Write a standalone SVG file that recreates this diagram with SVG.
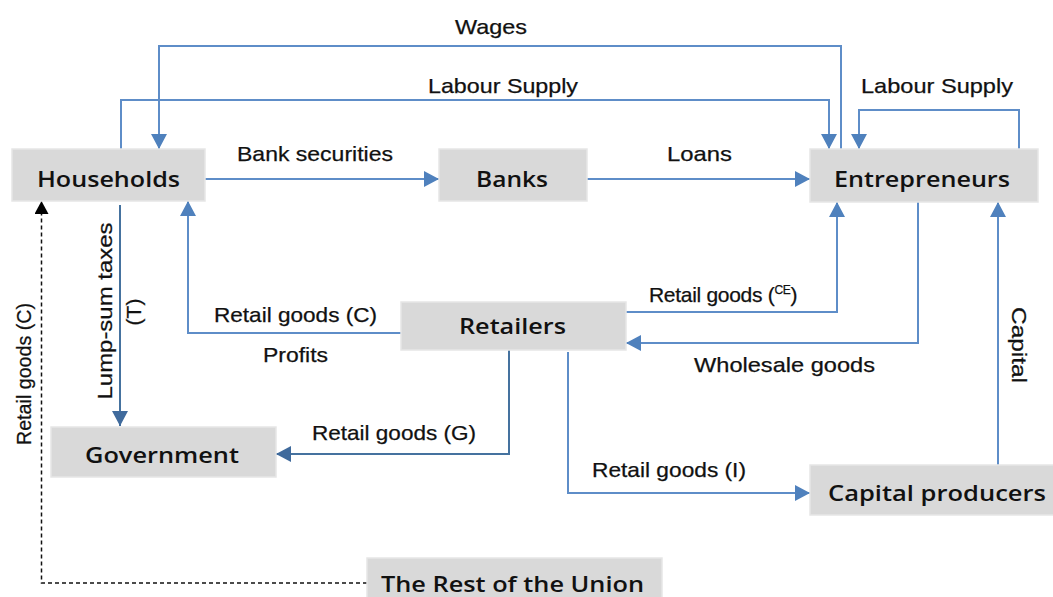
<svg xmlns="http://www.w3.org/2000/svg" width="1053" height="597" viewBox="0 0 1053 597">
<style>
.node rect{fill:#D9D9D9;stroke:#E6E6E6;stroke-width:1.5}
.node text{font-family:"Open Sans","Liberation Sans",sans-serif;font-weight:600;font-size:21px;fill:#111}
.lbl{font-family:"Liberation Sans",Arial,sans-serif;font-size:21px;fill:#111;stroke:#111;stroke-width:0.25}
.c{fill:none;stroke:#5E8DC8;stroke-width:2}
.dk{stroke:#45729F}
.dash{fill:none;stroke:#111;stroke-width:1.5;stroke-dasharray:4 3}
</style>
<defs>
<marker id="a" markerUnits="userSpaceOnUse" markerWidth="16" markerHeight="16" viewBox="0 0 16 16" refX="15" refY="8" orient="auto"><path d="M0,0 L15,8 L0,16 z" fill="#4F81BD"/></marker>
<marker id="ad" markerUnits="userSpaceOnUse" markerWidth="16" markerHeight="16" viewBox="0 0 16 16" refX="15" refY="8" orient="auto"><path d="M0,0 L15,8 L0,16 z" fill="#3F6A9C"/></marker>
<marker id="ab" markerUnits="userSpaceOnUse" markerWidth="14" markerHeight="14" viewBox="0 0 14 14" refX="13" refY="7" orient="auto"><path d="M0,0 L13,7 L0,14 z" fill="#000"/></marker>
</defs>
<rect width="1053" height="597" fill="#fff"/>
<g id="connectors">
<path class="c" d="M841,150 V46 H159 V149" marker-end="url(#a)"/>
<path class="c" d="M121,149 V100 H829 V149" marker-end="url(#a)"/>
<path class="c" d="M1019,149 V110 H859 V149" marker-end="url(#a)"/>
<path class="c" d="M205,179 H439" marker-end="url(#a)"/>
<path class="c" d="M587,179 H810" marker-end="url(#a)"/>
<path class="c" d="M626,312 H837 V202" marker-end="url(#a)"/>
<path class="c" d="M918,202 V343 H626" marker-end="url(#a)"/>
<path class="c" d="M998,465 V202" marker-end="url(#a)"/>
<path class="c" d="M401,333 H188 V201" marker-end="url(#a)"/>
<path class="c dk" d="M120,205 V426" marker-end="url(#ad)"/>
<path class="c dk" d="M509,350 V454 H276" marker-end="url(#ad)"/>
<path class="c" d="M568,352 V493 H810" marker-end="url(#a)"/>
<path class="dash" d="M367,583 H41.5 V201" marker-end="url(#ab)"/>
</g>
<g id="households" class="node"><rect x="12" y="149" width="193" height="52"/><text x="37" y="187" textLength="143" lengthAdjust="spacingAndGlyphs">Households</text></g>
<g id="banks" class="node"><rect x="439" y="149" width="148" height="52"/><text x="476" y="187" textLength="72" lengthAdjust="spacingAndGlyphs">Banks</text></g>
<g id="entrepreneurs" class="node"><rect x="810" y="149" width="228" height="53"/><text x="834" y="187" textLength="176" lengthAdjust="spacingAndGlyphs">Entrepreneurs</text></g>
<g id="retailers" class="node"><rect x="401" y="302" width="225" height="48"/><text x="459" y="334" textLength="107" lengthAdjust="spacingAndGlyphs">Retailers</text></g>
<g id="government" class="node"><rect x="51" y="427" width="225" height="50"/><text x="85" y="463" textLength="154" lengthAdjust="spacingAndGlyphs">Government</text></g>
<g id="capital-producers" class="node"><rect x="810" y="465" width="245" height="50"/><text x="828" y="501" textLength="218" lengthAdjust="spacingAndGlyphs">Capital producers</text></g>
<g id="rest-of-union" class="node"><rect x="367" y="558" width="295" height="45"/><text x="381" y="592" textLength="263" lengthAdjust="spacingAndGlyphs">The Rest of the Union</text></g>
<g id="labels">
<text class="lbl" x="455" y="34" textLength="72" lengthAdjust="spacingAndGlyphs">Wages</text>
<text class="lbl" x="428" y="93" textLength="150" lengthAdjust="spacingAndGlyphs">Labour Supply</text>
<text class="lbl" x="861" y="93" textLength="152" lengthAdjust="spacingAndGlyphs">Labour Supply</text>
<text class="lbl" x="237" y="161" textLength="156" lengthAdjust="spacingAndGlyphs">Bank securities</text>
<text class="lbl" x="667" y="161" textLength="65" lengthAdjust="spacingAndGlyphs">Loans</text>
<text class="lbl" x="649" y="302" letter-spacing="-0.3">Retail goods (<tspan font-size="12" dy="-8">CE</tspan><tspan dy="8">)</tspan></text>
<text class="lbl" x="694" y="372" textLength="181" lengthAdjust="spacingAndGlyphs">Wholesale goods</text>
<text class="lbl" x="214" y="322" textLength="163" lengthAdjust="spacingAndGlyphs">Retail goods (C)</text>
<text class="lbl" x="263" y="362" textLength="65" lengthAdjust="spacingAndGlyphs">Profits</text>
<text class="lbl" x="312" y="440" textLength="164" lengthAdjust="spacingAndGlyphs">Retail goods (G)</text>
<text class="lbl" x="592" y="477" textLength="154" lengthAdjust="spacingAndGlyphs">Retail goods (I)</text>
<text class="lbl" transform="translate(1012,345) rotate(90)" text-anchor="middle" textLength="76" lengthAdjust="spacingAndGlyphs">Capital</text>
<text class="lbl" transform="translate(112,311) rotate(-90)" text-anchor="middle" textLength="177" lengthAdjust="spacingAndGlyphs">Lump-sum taxes</text>
<text class="lbl" transform="translate(141,312) rotate(-90)" text-anchor="middle">(T)</text>
<text class="lbl" transform="translate(31,374) rotate(-90)" text-anchor="middle" textLength="142" lengthAdjust="spacingAndGlyphs">Retail goods (C)</text>
</g>
</svg>
